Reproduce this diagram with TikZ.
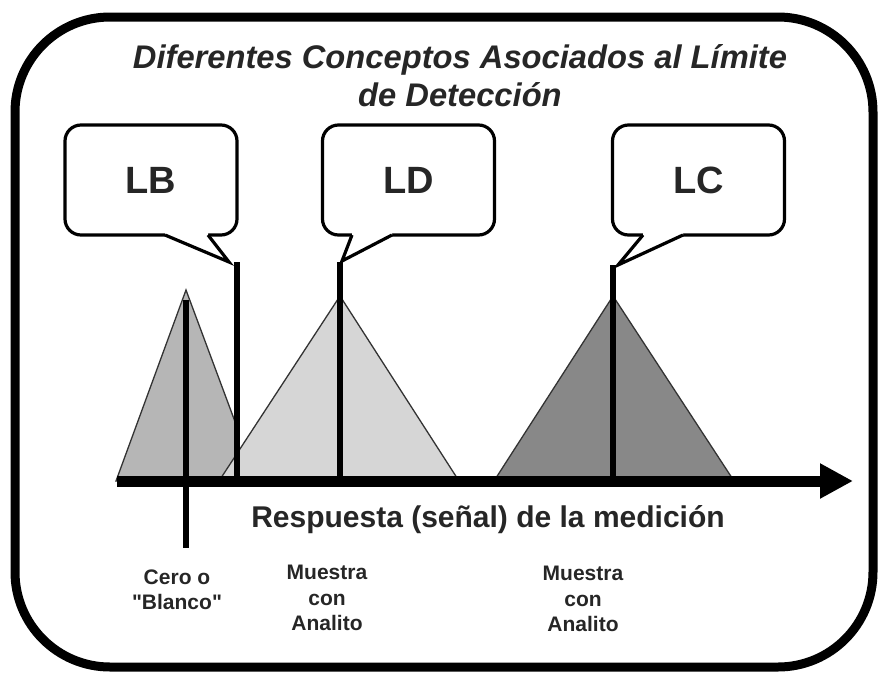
\documentclass[tikz,border=0pt]{standalone}
\usepackage{fontspec}
\setmainfont{Liberation Sans}[Ligatures=TeXOff]
\usetikzlibrary{arrows.meta}

\definecolor{blancogris}{HTML}{B6B6B6}
\definecolor{ldgris}{HTML}{D6D6D6}
\definecolor{lcgris}{HTML}{888888}

\begin{document}
\begin{tikzpicture}[
    x=1pt, y=-1pt,
    frame/.style={draw=black, line width=9pt, rounded corners=95pt},
    bubble/.style={rectangle, rounded corners=16pt, draw=black, line width=3.2pt, fill=white, outer sep=0pt, minimum width=172pt, minimum height=110pt, font=\bfseries\fontsize{38}{44}\selectfont, text=black!85},
    tail/.style={draw=black, line width=3.2pt, line join=miter},
    peak/.style={draw=black!80, line width=1.3pt},
    marker/.style={draw=black, line width=6.5pt},
    axis/.style={draw=black, line width=11pt, -{Triangle[length=33pt, width=33pt]}},
    caption/.style={align=center, font=\bfseries\fontsize{21}{25.5}\selectfont, text=black!85}
]
\useasboundingbox (0,0) rectangle (879,673);

\draw[frame] (15,17) rectangle (873,667);

\node[align=center, font=\bfseries\itshape\fontsize{32.7}{38}\selectfont, text=black!85] (title) at (460,76) {Diferentes Conceptos Asociados al Límite\\de Detección};

% distribuciones
\draw[peak, fill=blancogris] (116,481) -- (186,290) -- (237,427) -- (237,481) -- cycle;
\draw[peak, fill=ldgris] (219,481) -- (340,296) -- (459,481) -- cycle;
\draw[peak, fill=lcgris] (494,481) -- (613,296) -- (734,481) -- cycle;

\coordinate (ax0) at (117,481);
\coordinate (ax1) at (853,481);
\coordinate (cerotop) at (186,300);
\coordinate (cerobot) at (186,548);
\coordinate (lbtop) at (237,262);
\coordinate (ldtop) at (340,262);
\coordinate (lctop) at (613,265);

\draw[marker] (cerotop) -- (cerobot);
\draw[marker] (lbtop) -- (lbtop |- ax0);
\draw[marker] (ldtop) -- (ldtop |- ax0);
\draw[marker] (lctop) -- (lctop |- ax0);
\draw[axis] (ax0) -- (ax1);

\node[font=\bfseries\fontsize{30}{35}\selectfont, text=black!85] (resp) at (488,520) {Respuesta (señal) de la medición};

\node[caption] (cero) at (177,590) {Cero o\\"Blanco"};
\node[caption] (muestra1) at (327,598) {Muestra\\con\\Analito};
\node[caption] (muestra2) at (583,599) {Muestra\\con\\Analito};

% globos
\node[bubble] (lb) at (151,180) {LB};
\node[bubble] (ld) at (408.5,180) {LD};
\node[bubble] (lc) at (698.5,180) {LC};

\coordinate (lbtip) at (229,262);
\coordinate (ldtip) at (342,261);
\coordinate (lctip) at (618,265);

\fill[white] ([xshift=14pt,yshift=2pt]lb.south) -- ([xshift=14pt]lb.south) -- (lbtip) -- ([xshift=57pt]lb.south) -- ([xshift=57pt,yshift=2pt]lb.south) -- cycle;
\draw[tail] ([xshift=14pt]lb.south) -- (lbtip) -- ([xshift=57pt]lb.south);

\fill[white] ([xshift=-56.5pt,yshift=2pt]ld.south) -- ([xshift=-56.5pt]ld.south) -- (ldtip) -- ([xshift=-16.5pt]ld.south) -- ([xshift=-16.5pt,yshift=2pt]ld.south) -- cycle;
\draw[tail] ([xshift=-56.5pt]ld.south) -- (ldtip) -- ([xshift=-16.5pt]ld.south);

\fill[white] ([xshift=-55.5pt,yshift=2pt]lc.south) -- ([xshift=-55.5pt]lc.south) -- (lctip) -- ([xshift=-15.5pt]lc.south) -- ([xshift=-15.5pt,yshift=2pt]lc.south) -- cycle;
\draw[tail] ([xshift=-55.5pt]lc.south) -- (lctip) -- ([xshift=-15.5pt]lc.south);

\end{tikzpicture}
\end{document}
